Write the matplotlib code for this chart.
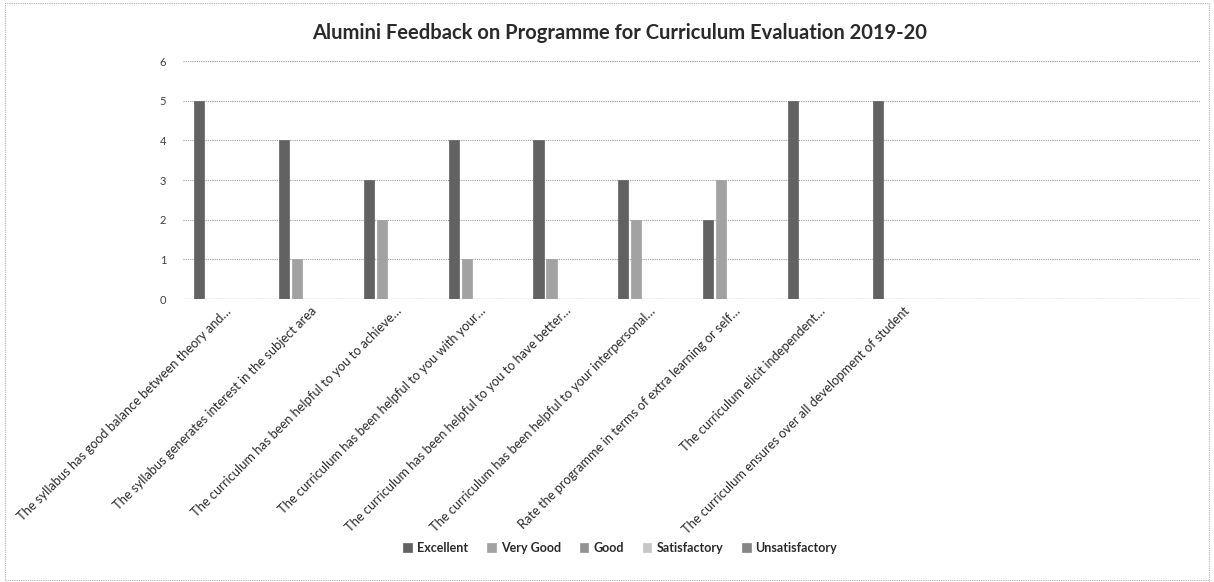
import matplotlib
matplotlib.use("Agg")
import matplotlib.pyplot as plt
from matplotlib.patches import Rectangle
import numpy as np

categories = [
    "The syllabus has good balance between theory and…",
    "The syllabus generates interest in the subject area",
    "The curriculum has been helpful to you to achieve…",
    "The curriculum has been helpful to you with your…",
    "The curriculum has been helpful to you to have better…",
    "The curriculum has been helpful to your interpersonal…",
    "Rate the programme in terms of extra learning or self…",
    "The curriculum elicit independent…",
    "The curriculum ensures over all development of student",
    "", "", "",
]
series_names = ["Excellent", "Very Good", "Good", "Satisfactory", "Unsatisfactory"]
excellent = [5, 4, 3, 4, 4, 3, 2, 5, 5, 0, 0, 0]
very_good = [0, 1, 2, 1, 1, 2, 3, 0, 0, 0, 0, 0]
good = [0] * 12
satisfactory = [0] * 12
unsatisfactory = [0] * 12
values = [excellent, very_good, good, satisfactory, unsatisfactory]
colors = ["#626262", "#a2a2a2", "#939393", "#c6c6c6", "#858585"]

plt.rcParams['font.family'] = ['Lato', 'DejaVu Sans']

fig = plt.figure(figsize=(12.14, 5.82), dpi=100)
ax = fig.add_axes([0.1507, 0.486, 0.838, 0.409])

x = np.arange(len(categories))
pitch = 0.153
bw = 0.12
handles = []
for i, (name, vals, c) in enumerate(zip(series_names, values, colors)):
    h = ax.bar(x + (i - 2) * pitch, vals, width=bw, color=c, edgecolor=c,
               linewidth=0.5, label=name, zorder=3)
    handles.append(h)

ax.set_xlim(-0.5, len(categories) - 0.5)
ax.set_ylim(0, 6)
ax.set_yticks(range(0, 7))
ax.yaxis.grid(True, color="#9a9a9a", linestyle=(0, (1, 1)), linewidth=0.8, zorder=0)
for s in ax.spines.values():
    s.set_visible(False)
ax.axhline(0, color="#8a8a8a", linestyle=(0, (1, 1)), linewidth=0.9, zorder=2)
ax.tick_params(axis="both", length=0, colors="#404040", labelsize=8)
ax.tick_params(axis="y", pad=12)
ax.set_xticks(x)
ax.set_xticklabels(categories, rotation=45, ha="right", rotation_mode="anchor",
                   fontsize=9.3, color="#2a2a2a")
ax.tick_params(axis="x", pad=4)

fig.text(0.51, 0.943, "Alumini Feedback on Programme for Curriculum Evaluation 2019-20",
         ha="center", va="center", fontsize=14.5, fontweight="bold", color="#2a2a2a")

fig.legend(handles=handles, labels=series_names, loc="center", ncol=5,
           bbox_to_anchor=(0.511, 0.058), frameon=False,
           prop={"size": 9, "weight": "bold"},
           handlelength=0.7, handleheight=0.7, handletextpad=0.4, columnspacing=1.5,
           labelcolor="#2a2a2a")

fig.patches.append(Rectangle((0.004, 0.004), 0.992, 0.99, transform=fig.transFigure,
                             fill=False, edgecolor="#b0b0b0", linestyle=(0, (1, 1)),
                             linewidth=0.8))

fig.savefig("out.png", dpi=100)
